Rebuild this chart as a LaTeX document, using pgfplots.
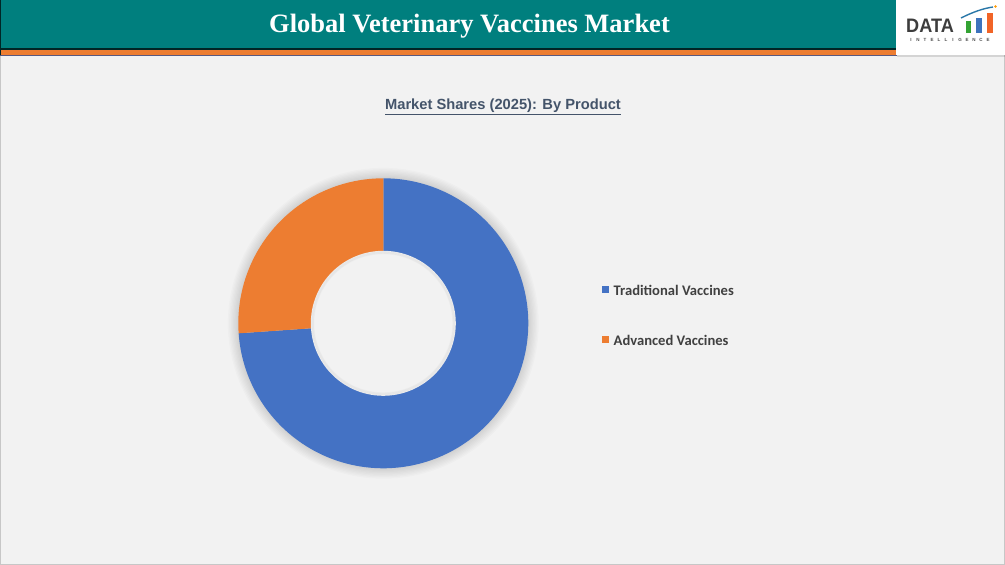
\documentclass[border=0pt]{standalone}
\usepackage{pgfplots}
\pgfplotsset{compat=1.18}
\usepackage{pgfplotstable}
\usepackage{fontspec}
\setmainfont{Liberation Serif}
\newfontfamily\arial{Liberation Sans}
\newfontfamily\calibri{Carlito}
\definecolor{bg}{HTML}{F2F2F2}
\definecolor{teal1}{HTML}{007F7E}
\definecolor{orng}{HTML}{ED7D31}
\definecolor{cblue}{HTML}{4472C4}
\definecolor{subt}{HTML}{44546A}
\definecolor{legtxt}{HTML}{404040}
\pgfplotstableread{
product share
Traditional 73.9
Advanced 26.1
}\shares
\pgfplotstablegetelem{0}{share}\of\shares \let\shTrad\pgfplotsretval
\pgfplotstablegetelem{1}{share}\of\shares \let\shAdv\pgfplotsretval
\pgfmathsetmacro{\aStart}{90}
\pgfmathsetmacro{\aMid}{90+3.6*\shAdv}
\pgfmathsetmacro{\aEnd}{\aMid+3.6*\shTrad}
\begin{document}
\begin{tikzpicture}[x=1pt,y=1pt]
% background
\fill[bg] (0,0) rectangle (1005,565);
\draw[black!22, line width=1pt] (0.5,0.5) rectangle (1004.5,564.5);
% header
\fill[teal1] (0,516) rectangle (897,565);
\fill[black!70!teal1] (0,515) rectangle (897,516.5);
\fill[orng] (0,510) rectangle (897,515);
\fill[black!50!blue!30!gray] (0,509) rectangle (897,510);
\fill[black!70!teal1] (0,510) rectangle (1.2,565);
\node[text=white, font=\bfseries\fontsize{26.5}{30}\selectfont] at (469.5,538.5) {Global Veterinary Vaccines Market};
% logo box
\fill[black, opacity=0.12] (897,507.5) rectangle (1005,510);
\fill[white] (896,510) rectangle (1005,565);
\node[anchor=base west, inner sep=0pt, xscale=0.93, text=black!76, font=\arial\bfseries\fontsize{19.5}{20}\selectfont] at (906,532) {DATA};
\fill[green!55!black!80!white] (966,532) rectangle (971,544);
\fill[cblue!90!teal1] (976,532) rectangle (982,547);
\fill[orng!80!red] (987,532) rectangle (993,552);
\draw[cblue!60!teal1, line width=1.4pt] (961,547) .. controls (973,553) and (983,556.5) .. (993,558);
\fill[orange!80!yellow] (995.5,558.5) circle (1.3);
\node[inner sep=0pt, text=black!70, font=\arial\bfseries\fontsize{4.5}{5}\selectfont] at (949.5,525) {\makebox[7pt]{I}\makebox[7pt]{N}\makebox[7pt]{T}\makebox[7pt]{E}\makebox[7pt]{L}\makebox[7pt]{L}\makebox[7pt]{I}\makebox[7pt]{G}\makebox[7pt]{E}\makebox[7pt]{N}\makebox[7pt]{C}\makebox[7pt]{E}};
% subtitle
\node[text=subt, font=\arial\bfseries\fontsize{14.7}{16}\selectfont] at (503,458) {\underline{Market Shares (2025): By Product}};
% donut
\begin{axis}[
  at={(383.3pt,241.7pt)}, anchor=origin,
  width=290pt, height=290pt, scale only axis,
  xmin=-1, xmax=1, ymin=-1, ymax=1,
  hide axis, clip=false,
  legend style={at={(1.2541,0.6305)}, anchor=north west, draw=none, fill=none,
    inner sep=0pt, row sep=37pt,
    font=\calibri\bfseries\fontsize{14.6}{16}\selectfont, text=legtxt,
    nodes={inner xsep=2.5pt, inner ysep=0pt, text height=10pt, text depth=3pt}},
  legend cell align=left,
  legend image code/.code={\fill[#1] (0pt,-0.5pt) rectangle (7pt,6.5pt);},
]
\foreach \k in {1,...,8}{
  \addplot[fill=black, fill opacity=0.014, draw=none, domain=0:360, samples=120, forget plot]
    ({(1+0.009*\k)*cos(x)},{(1+0.009*\k)*sin(x)}) -- cycle;
}
\addplot[fill=cblue, draw=none, domain=\aMid:\aEnd, samples=160]
  ({cos(x)},{sin(x)}) -- (axis cs:0,0) -- cycle;
\addlegendentry{\hspace{2pt}Traditional Vaccines}
\addplot[fill=orng, draw=none, domain=\aStart:\aMid, samples=80]
  ({cos(x)},{sin(x)}) -- (axis cs:0,0) -- cycle;
\addlegendentry{\hspace{2pt}Advanced Vaccines}
\addplot[fill=bg, draw=none, domain=0:360, samples=120, forget plot]
  ({0.5*cos(x)},{0.5*sin(x)}) -- cycle;
\foreach \k in {1,...,5}{
  \addplot[draw=black, draw opacity=0.02, line width=1.2pt, domain=0:360, samples=120, forget plot]
    ({(0.5-0.004*\k)*cos(x)},{(0.5-0.004*\k)*sin(x)}) -- cycle;
}
\end{axis}
\end{tikzpicture}
\end{document}
